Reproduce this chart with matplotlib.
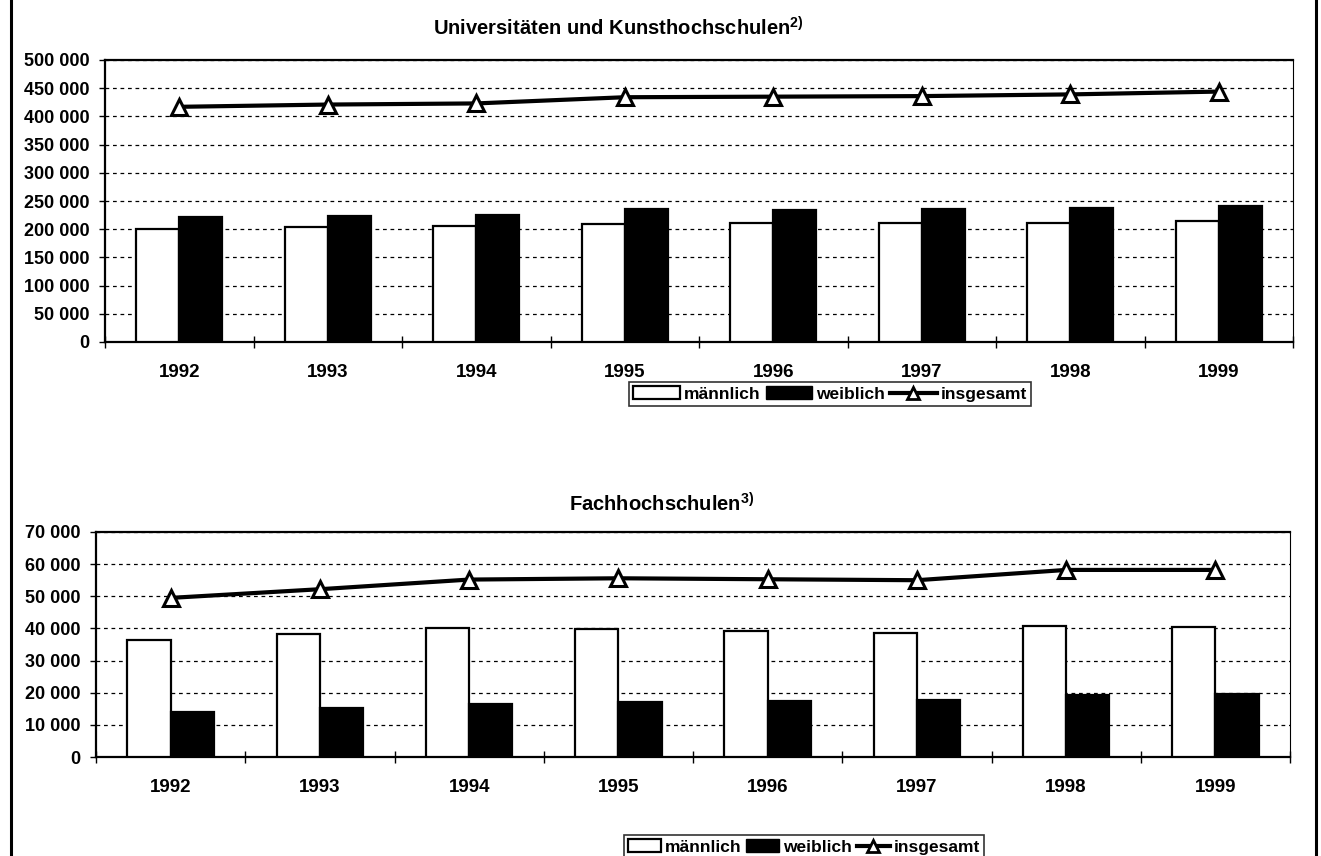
import matplotlib.pyplot as plt
from matplotlib.lines import Line2D
from matplotlib.patches import Patch
from matplotlib.ticker import FuncFormatter, FixedLocator
import numpy as np

plt.rcParams['font.family'] = ['Liberation Sans', 'DejaVu Sans']
plt.rcParams['font.weight'] = 'bold'
plt.rcParams['mathtext.fontset'] = 'custom'
plt.rcParams['mathtext.rm'] = 'Liberation Sans'
plt.rcParams['mathtext.bf'] = 'Liberation Sans:bold'

years = ['1992', '1993', '1994', '1995', '1996', '1997', '1998', '1999']
series_labels = ['männlich', 'weiblich', 'insgesamt']

# Universitaeten und Kunsthochschulen
uni_maennlich = [201000, 204000, 205000, 209000, 211000, 211000, 211000, 214000]
uni_weiblich = [221000, 224000, 226000, 235000, 234000, 236000, 238000, 242000]
uni_insgesamt = [417000, 421000, 423000, 434000, 435000, 436000, 439000, 444000]

# Fachhochschulen
fh_maennlich = [36400, 38300, 40000, 39900, 39300, 38500, 40800, 40300]
fh_weiblich = [14100, 15100, 16400, 17000, 17400, 17700, 19300, 19500]
fh_insgesamt = [49500, 52200, 55200, 55600, 55300, 55000, 58200, 58200]


def space_thousands(v, pos):
    return '{:,.0f}'.format(v).replace(',', ' ')


def draw_panel(ax, maennlich, weiblich, insgesamt, ymax, ystep):
    x = np.arange(len(years))
    w = 0.29
    ax.bar(x - w / 2, maennlich, w, color='white', edgecolor='black', linewidth=1.6, zorder=3)
    ax.bar(x + w / 2, weiblich, w, color='black', edgecolor='black', linewidth=1.6, zorder=3)
    ax.plot(x, insgesamt, color='black', linewidth=3, marker='^', markersize=12,
            markerfacecolor='white', markeredgecolor='black', markeredgewidth=2.2, zorder=4)

    ax.set_xlim(-0.5, len(years) - 0.5)
    ax.set_ylim(0, ymax)
    ax.set_yticks(np.arange(0, ymax + 1, ystep))
    ax.yaxis.set_major_formatter(FuncFormatter(space_thousands))
    ax.yaxis.grid(True, color='black', linestyle=(0, (3, 3)), linewidth=0.9)
    ax.set_axisbelow(True)

    ax.set_xticks(x)
    ax.set_xticklabels(years)
    ax.xaxis.set_minor_locator(FixedLocator(np.arange(-0.5, len(years), 1.0)))
    ax.tick_params(axis='x', which='major', length=0, pad=16, labelsize=13.5)
    ax.tick_params(axis='x', which='minor', direction='inout', length=8, width=1)
    ax.tick_params(axis='y', direction='out', length=4, width=1, pad=7, labelsize=13)

    for side in ['left', 'bottom', 'top']:
        ax.spines[side].set_linewidth(1.6)
    ax.spines['right'].set_linewidth(0.8)


def add_legend(fig, cx, cy, hlen):
    handles = [
        Patch(facecolor='white', edgecolor='black', linewidth=1.6),
        Patch(facecolor='black', edgecolor='black'),
        Line2D([], [], color='black', linewidth=3, marker='^', markersize=9,
               markerfacecolor='white', markeredgecolor='black', markeredgewidth=2),
    ]
    leg = fig.legend(handles, series_labels, loc='center', bbox_to_anchor=(cx, cy),
                     ncol=3, frameon=True, fancybox=False, edgecolor='black',
                     fontsize=12.5, handlelength=hlen, handleheight=0.8,
                     handletextpad=0.2, columnspacing=0.3, borderpad=0.25,
                     borderaxespad=0)
    leg.get_frame().set_linewidth(1.2)


fig = plt.figure(figsize=(13.21, 8.56), dpi=100)

ax1 = fig.add_axes([105 / 1321, 1 - 342 / 856, 1188 / 1321, 282 / 856])
draw_panel(ax1, uni_maennlich, uni_weiblich, uni_insgesamt, 500000, 50000)

ax2 = fig.add_axes([96 / 1321, 1 - 757 / 856, 1194 / 1321, 225 / 856])
draw_panel(ax2, fh_maennlich, fh_weiblich, fh_insgesamt, 70000, 10000)

fig.text(618 / 1321, 1 - 28 / 856, 'Universitäten und Kunsthochschulen' + r'$^{\mathbf{2)}}$',
         ha='center', va='center', fontsize=14.5, fontweight='bold')
fig.text(662 / 1321, 1 - 504 / 856, 'Fachhochschulen' + r'$^{\mathbf{3)}}$',
         ha='center', va='center', fontsize=14.5, fontweight='bold')

add_legend(fig, 830 / 1321, 1 - 394 / 856, 2.7)
add_legend(fig, 804 / 1321, 1 - 847 / 856, 1.9)

# outer frame of the page
fig.add_artist(Line2D([11 / 1321, 11 / 1321], [0, 1], color='black', linewidth=2.2))
fig.add_artist(Line2D([1316 / 1321, 1316 / 1321], [0, 1], color='black', linewidth=2.2))

fig.savefig('out.png', dpi=100)
